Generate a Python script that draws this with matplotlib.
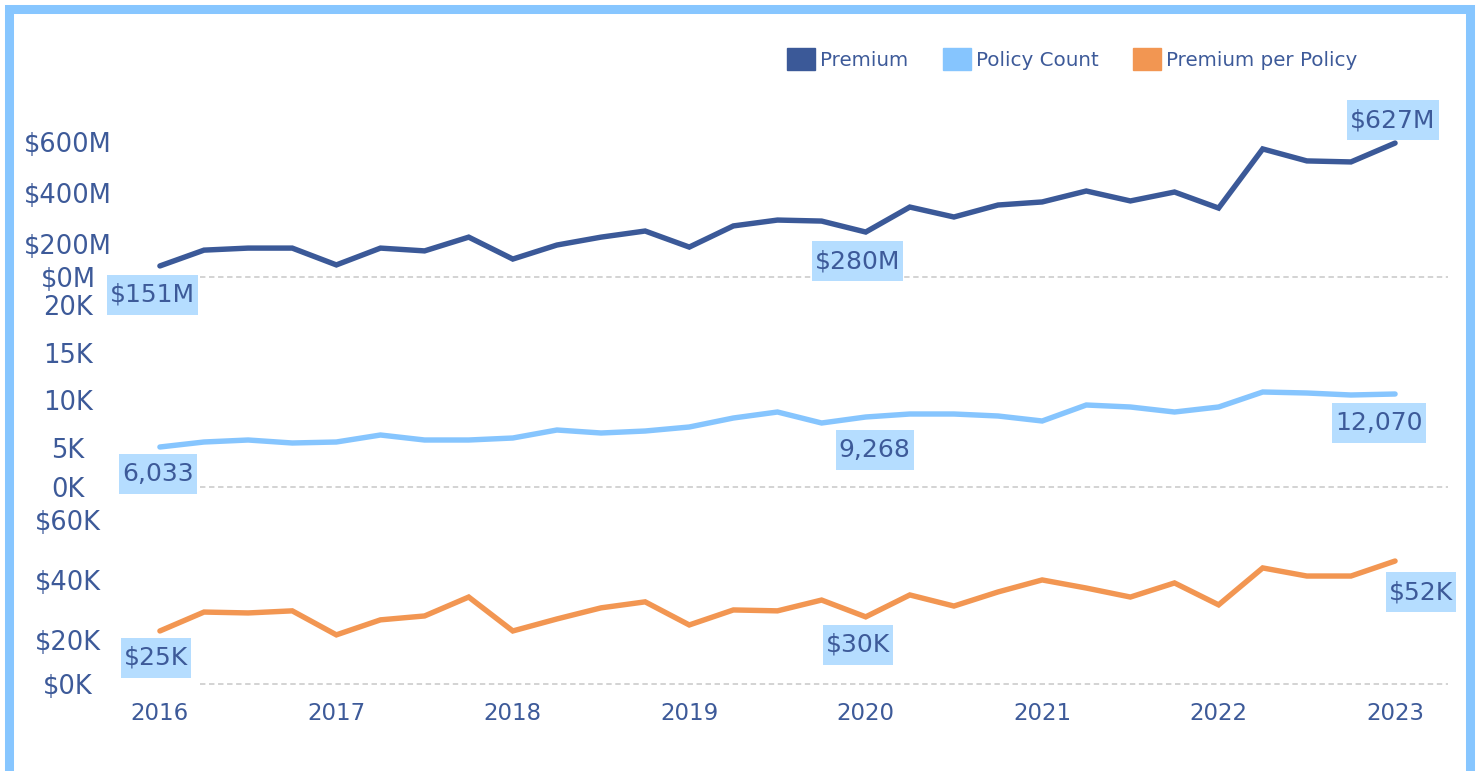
import numpy as np
import matplotlib.pyplot as plt
from matplotlib.patches import Patch, Rectangle

# quarterly values, 2016 Q1 .. 2023 Q1
years = ['2016', '2017', '2018', '2019', '2020', '2021', '2022', '2023']
premium_m = [114, 176, 184, 184, 118, 184, 173, 227, 141, 196, 227, 251, 188, 271, 294,
             290, 247, 345, 306, 353, 365, 408, 369, 404, 341, 573, 526, 522, 596]
policy_count = [5104, 5628, 5837, 5523, 5628, 6361, 5837, 5837, 6047, 6885, 6571, 6780,
                7200, 8143, 8772, 7619, 8248, 8562, 8562, 8353, 7829, 9505, 9296, 8772,
                9296, 10868, 10763, 10554, 10658]
premium_per_policy_k = [23.0, 29.3, 29.0, 29.7, 21.7, 26.7, 28.0, 34.3, 23.0, 27.0, 30.7,
                        32.7, 25.0, 30.0, 29.7, 33.3, 27.7, 35.0, 31.3, 36.0, 40.0, 37.3,
                        34.3, 39.0, 31.7, 44.0, 41.3, 41.3, 46.3]

series_names = ['Premium', 'Policy Count', 'Premium per Policy']
premium_ticks = [200, 400, 600]
premium_tick_labels = ['$200M', '$400M', '$600M']
policy_ticks = [5000, 10000, 15000, 20000]
policy_tick_labels = ['5K', '10K', '15K', '20K']
ppp_ticks = [20, 40, 60]
ppp_tick_labels = ['$20K', '$40K', '$60K']
zero_labels = ['$0M', '0K', '$0K']

# data labels at first quarter, 2020 Q1 and last quarter
label_idx = [0, 16, 28]
premium_point_labels = ['$151M', '$280M', '$627M']
policy_point_labels = ['6,033', '9,268', '12,070']
ppp_point_labels = ['$25K', '$30K', '$52K']

DARK = '#3B5998'
LIGHT = '#86C5FE'
ORANGE = '#F29652'
TEXT = '#3D5A99'
BOX = '#B5DDFF'

plt.rcParams['font.family'] = ['DejaVu Sans']

W, H = 1478, 771
fig = plt.figure(figsize=(W / 100, H / 100), dpi=100)


def px_axes(top, bottom, left=118, right=1448):
    return fig.add_axes([left / W, 1 - bottom / H, (right - left) / W, (bottom - top) / H])


x = np.arange(len(premium_m))
panels = [
    # values, colour, ylim, ticks, tick labels, zero label, point labels, label offsets (px)
    (premium_m, DARK, (70.6, 765), premium_ticks, premium_tick_labels, zero_labels[0],
     premium_point_labels, [(-7, -29), (-8, -29), (-2, 23)], (100, 277)),
    (policy_count, LIGHT, (912, 20720), policy_ticks, policy_tick_labels, zero_labels[1],
     policy_point_labels, [(-2, -27), (9, -33), (-16, -29)], (298, 487)),
    (premium_per_policy_k, ORANGE, (5.33, 63.3), ppp_ticks, ppp_tick_labels, zero_labels[2],
     ppp_point_labels, [(-4, -27), (-8, -28), (26, -31)], (510, 684)),
]

axes = []
for k, (vals, col, ylim, ticks, tlabels, zlabel, plabels, offs, (top, bot)) in enumerate(panels):
    ax = px_axes(top, bot)
    ax.set_zorder(10 - k)
    ax.patch.set_visible(False)
    ax.plot(x, vals, color=col, lw=3.9, solid_capstyle='round', solid_joinstyle='miter',
            clip_on=False, zorder=3)
    ax.set_xlim(-0.95, 29.2)
    ax.set_ylim(*ylim)
    ax.set_yticks([ylim[0]] + ticks, [zlabel] + tlabels)
    for t in ax.get_yticklabels():
        t.set_ha('center')
    ax.tick_params(axis='y', length=0, pad=36, labelsize=18.5, labelcolor=TEXT)
    ax.tick_params(axis='x', length=0)
    for s in ax.spines.values():
        s.set_visible(False)
    ax.axhline(ylim[0], xmin=(200 - 118) / (1448 - 118), xmax=1, color='#D0D0D0', lw=1.3,
               dashes=(3, 2), clip_on=False, zorder=1)
    for i, txt, (dx, dy) in zip(label_idx, plabels, offs):
        ax.annotate(txt, (x[i], vals[i]), xytext=(dx * 0.72, dy * 0.72),
                    textcoords='offset points', ha='center', va='center', fontsize=18,
                    color=TEXT, zorder=5, annotation_clip=False,
                    bbox=dict(boxstyle='square,pad=0.12', mutation_aspect=2.7,
                              fc=BOX, ec='none'))
    axes.append(ax)

for ax in axes[:-1]:
    ax.set_xticks([])
axes[-1].set_xticks(x[::4], years)
axes[-1].tick_params(axis='x', labelsize=16.5, labelcolor=TEXT, pad=13)

handles = [Patch(color=c) for c in (DARK, LIGHT, ORANGE)]
fig.legend(handles, series_names, loc='center left', bbox_to_anchor=(787 / W, 1 - 59 / H),
           ncol=3, frameon=False, fontsize=14.3, labelcolor=TEXT, handlelength=1.4,
           handleheight=1.4, handletextpad=0.25, columnspacing=1.75, borderpad=0,
           borderaxespad=0)

# outer frame
fig.patches.append(Rectangle((8.5 / W, 1 - 773 / H), 1461.5 / W, 764 / H,
                             transform=fig.transFigure, fill=False, ec='#87C6FF', lw=6.5))

fig.savefig('out.png', dpi=100)
